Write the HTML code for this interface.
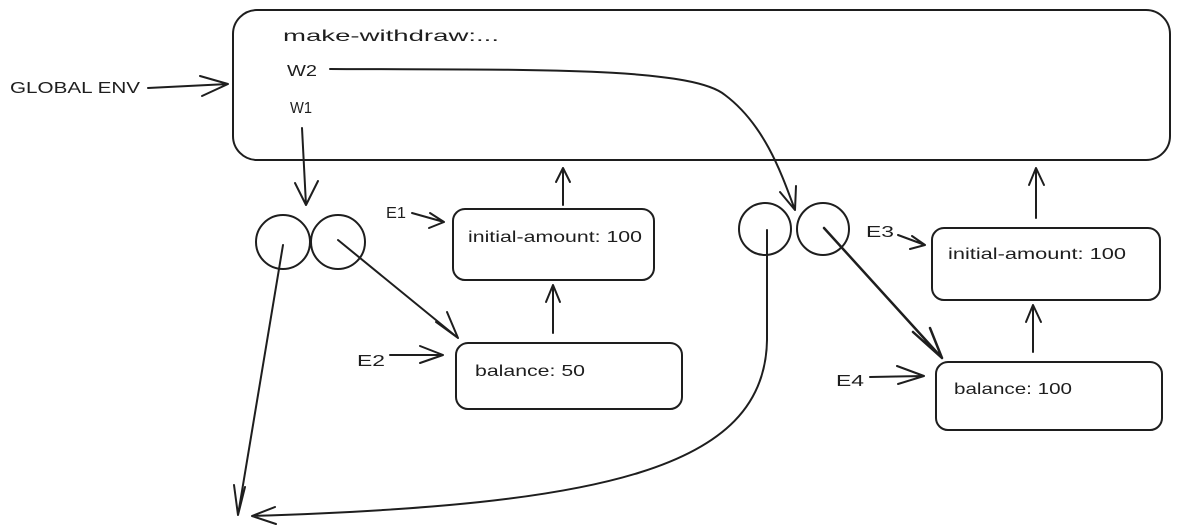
<!DOCTYPE html>
<html><head><meta charset="utf-8"><style>
html,body{margin:0;padding:0;background:#fff;}
svg{display:block}
text{font-family:"Liberation Sans",sans-serif;fill:#1e1e1e;font-size:16px}
</style></head><body>
<svg width="1177" height="526" viewBox="0 0 1177 526" xmlns="http://www.w3.org/2000/svg">
<g fill="none" stroke="#1e1e1e" stroke-width="2" stroke-linecap="round" stroke-linejoin="round">
<rect x="233" y="10" width="937" height="150" rx="24"/>
<rect x="453" y="209" width="201" height="71" rx="12"/>
<rect x="456" y="343" width="226" height="66" rx="12"/>
<rect x="932" y="228" width="228" height="72" rx="12"/>
<rect x="936" y="362" width="226" height="68" rx="12"/>
<circle cx="283" cy="242" r="27"/>
<circle cx="338" cy="242" r="27"/>
<circle cx="765" cy="229" r="26"/>
<circle cx="823" cy="229" r="26"/>
<path d="M148 88 L228 84 M200 76 L228 84 L202 96"/>
<path d="M302 128 L306 205 M295 183 L306 205 L318 181"/>
<path d="M330 69 C520 70 690 66 725 95 C765 125 782 175 795 210 M780 192 L795 210 L796 186"/>
<path d="M563 205 L563 168 M556 182 L563 168 L570 182"/>
<path d="M553 333 L553 285 M546 302 L553 285 L560 302"/>
<path d="M412 213 L444 222 M430 213 L444 222 L429 228"/>
<path d="M390 355 L443 355 M420 346 L443 355 L420 363"/>
<path d="M338 240 L458 338 M436 322 L458 338 L447 312"/>
<path d="M283 245 L238 515 M234 485 L238 515 L245 487"/>
<path d="M767 230 L767 340 C765 470 600 505 252 516 M275 507 L252 516 L276 524" />
<path d="M1036 218 L1036 168 M1029 185 L1036 168 L1044 185"/>
<path d="M1033 352 L1033 305 M1026 322 L1033 305 L1041 322"/>
<path d="M898 235 L925 245 M912 236 L925 245 L910 249"/>
<path d="M870 377 L924 376 M897 366 L924 376 L898 384"/>
<path d="M824 228 L942 358 M913 332 L942 358 L930 328" stroke-width="2.5"/>
</g>
<text x="283" y="41" font-size="18" textLength="216" lengthAdjust="spacingAndGlyphs">make-withdraw:...</text>
<text x="287" y="76" font-size="15" textLength="30" lengthAdjust="spacingAndGlyphs">W2</text>
<text x="290" y="113" font-size="15" textLength="22" lengthAdjust="spacingAndGlyphs">W1</text>
<text x="10" y="93" font-size="14" textLength="130" lengthAdjust="spacingAndGlyphs">GLOBAL ENV</text>
<text x="386" y="218" font-size="15" textLength="20" lengthAdjust="spacingAndGlyphs">E1</text>
<text x="357" y="366" font-size="15" textLength="28" lengthAdjust="spacingAndGlyphs">E2</text>
<text x="866" y="237" font-size="15" textLength="28" lengthAdjust="spacingAndGlyphs">E3</text>
<text x="836" y="386" font-size="15" textLength="28" lengthAdjust="spacingAndGlyphs">E4</text>
<text x="468" y="242" font-size="17" textLength="174" lengthAdjust="spacingAndGlyphs">initial-amount: 100</text>
<text x="475" y="376" font-size="17" textLength="110" lengthAdjust="spacingAndGlyphs">balance: 50</text>
<text x="948" y="259" font-size="17" textLength="178" lengthAdjust="spacingAndGlyphs">initial-amount: 100</text>
<text x="954" y="394" font-size="17" textLength="118" lengthAdjust="spacingAndGlyphs">balance: 100</text>
</svg>
</body></html>
